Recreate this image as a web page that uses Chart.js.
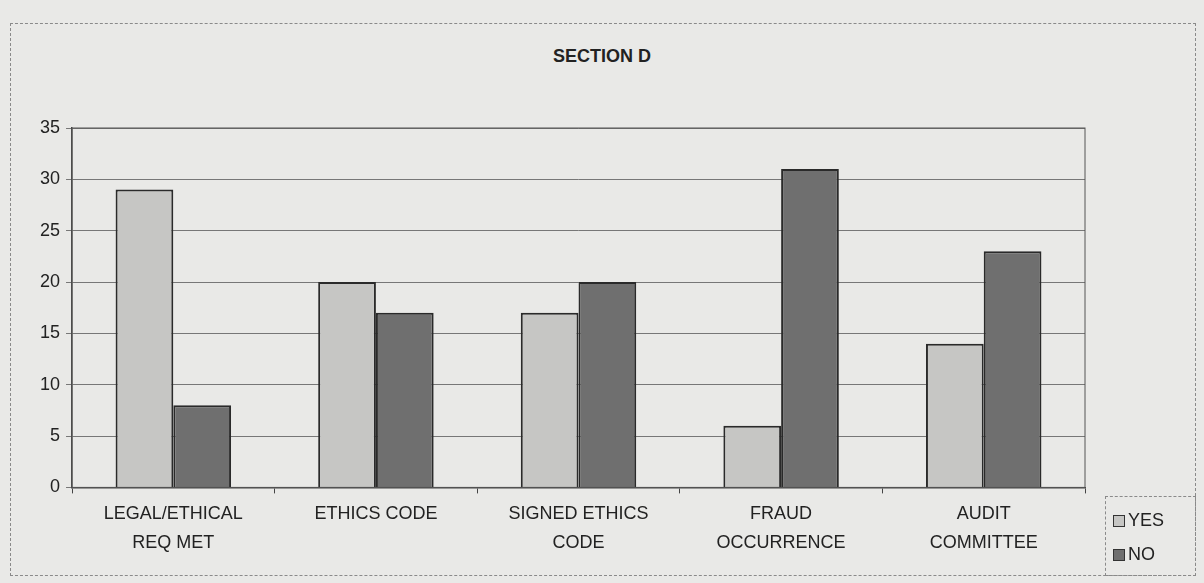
<!DOCTYPE html>
<html>
<head>
<meta charset="utf-8">
<script src="https://cdn.jsdelivr.net/npm/chart.js@4.4.1/dist/chart.umd.min.js"></script>
<style>
  body { margin: 0; background: #e9e9e7; }
  #wrap { position: relative; width: 1204px; height: 583px; }
  #frame { position: absolute; left: 10px; top: 23px; width: 1186px; height: 553px; border: 1px dashed #8a8a8a; box-sizing: border-box; }
  #titulo { position: absolute; left: 0; width: 1204px; top: 46px; text-align: center; font-family: "Liberation Sans", Arial, sans-serif; font-size: 18px; font-weight: bold; color: #222; }
  #legend { position: absolute; left: 1105px; top: 496px; width: 91px; height: 80px; border: 1px dashed #8a8a8a; box-sizing: border-box; font-family: "Liberation Sans", Arial, sans-serif; font-size: 18px; color: #222; }
  .item { position: absolute; left: 7px; display: flex; align-items: center; }
  .sw { width: 12px; height: 12px; border: 1.5px solid #333; margin-right: 3px; box-sizing: border-box; }
  canvas { position: absolute; left: 0; top: 0; }
</style>
</head>
<body>
<div id="wrap">
  <div id="frame"></div>
  <div id="titulo">SECTION D</div>
  <canvas id="chart" width="1204" height="583"></canvas>
  <div id="legend"></div>
</div>
<script>
// --- DATA ---
const categorias = [
  ['LEGAL/ETHICAL', 'REQ MET'],
  'ETHICS CODE',
  ['SIGNED ETHICS', 'CODE'],
  ['FRAUD', 'OCCURRENCE'],
  ['AUDIT', 'COMMITTEE']
];
const valoresYes = [29, 20, 17, 6, 14];
const valoresNo = [8, 17, 20, 31, 23];
const ticksY = [0, 5, 10, 15, 20, 25, 30, 35];

const COLOR_YES = '#c6c6c4';
const COLOR_NO = '#6f6f6f';
const FUENTE = '"Liberation Sans", Arial, sans-serif';

// borde del área de trazado
const marcoPlot = {
  id: 'marcoPlot',
  afterDraw(chart) {
    const { ctx, chartArea: a } = chart;
    ctx.save();
    ctx.strokeStyle = '#555';
    ctx.lineWidth = 1;
    ctx.strokeRect(a.left, a.top, a.right - a.left, a.bottom - a.top);
    ctx.restore();
  }
};

const ctx = document.getElementById('chart').getContext('2d');
const grafico = new Chart(ctx, {
  type: 'bar',
  data: {
    labels: categorias,
    datasets: [
      { label: 'YES', data: valoresYes, backgroundColor: COLOR_YES, borderColor: '#2a2a2a', borderWidth: 2 },
      { label: 'NO', data: valoresNo, backgroundColor: COLOR_NO, borderColor: '#2a2a2a', borderWidth: 2 }
    ]
  },
  options: {
    responsive: false,
    animation: false,
    layout: { padding: { left: 34, right: 119, top: 128, bottom: 20 } },
    datasets: { bar: { categoryPercentage: 0.57, barPercentage: 1 } },
    plugins: {
      legend: { display: false },
      tooltip: { enabled: false },
      title: { display: false }
    },
    scales: {
      x: {
        grid: { display: true, drawOnChartArea: false, offset: true, tickLength: 6, color: '#444' },
        border: { color: '#444', width: 1.5 },
        ticks: { color: '#222', font: { family: FUENTE, size: 18, lineHeight: 1.6 }, maxRotation: 0, padding: 6 }
      },
      y: {
        min: 0,
        max: 35,
        afterBuildTicks(axis) { axis.ticks = ticksY.map(v => ({ value: v })); },
        grid: { color: '#777', tickLength: 6, lineWidth: 1 },
        border: { color: '#444', width: 1.5 },
        ticks: { color: '#222', font: { family: FUENTE, size: 18 }, padding: 6 }
      }
    }
  },
  plugins: [marcoPlot]
});

// leyenda en HTML, abajo a la derecha
const leyenda = document.getElementById('legend');
grafico.data.datasets.forEach((ds, i) => {
  const item = document.createElement('div');
  item.className = 'item';
  item.style.top = (i === 0 ? 13 : 47) + 'px';
  item.innerHTML = '<span class="sw" style="background:' + ds.backgroundColor + '"></span>' + ds.label;
  leyenda.appendChild(item);
});
</script>
</body>
</html>
